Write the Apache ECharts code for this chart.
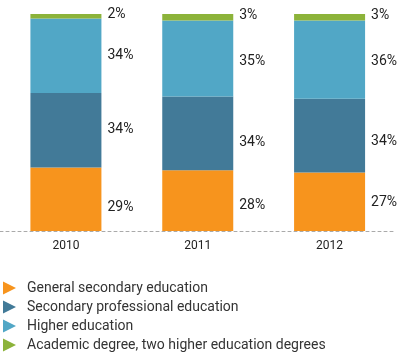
<!DOCTYPE html>
<html>
<head>
<meta charset="utf-8">
<script src="https://cdn.jsdelivr.net/npm/echarts@6/dist/echarts.min.js"></script>
<style>
html,body{margin:0;padding:0;background:#fff;}
#chart{width:402px;height:357px;}
</style>
</head>
<body>
<div id="chart"></div>
<script>
const categories = ['2010', '2011', '2012'];
const seriesNames = [
  'General secondary education',
  'Secondary professional education',
  'Higher education',
  'Academic degree, two higher education degrees'
];
const generalSecondary = [29, 28, 27];
const secondaryProfessional = [34, 34, 34];
const higherEducation = [34, 35, 36];
const academicDegree = [2, 3, 3];

const colors = ['#F7941D', '#427A98', '#51A7C6', '#8CB33A'];
// label vertical nudges (style only)
const labelDy = [
  [8, 5, 1],
  [-1, 9, 6],
  [0, 3, 2],
  [-2, -2, -2]
];

const values = [generalSecondary, secondaryProfessional, higherEducation, academicDegree];
const totals = categories.map((c, i) => values.reduce((s, arr) => s + arr[i], 0));

const series = values.map((arr, si) => ({
  name: seriesNames[si],
  type: 'bar',
  stack: 'total',
  barWidth: 71,
  itemStyle: { color: colors[si] },
  data: arr.map((v, i) => ({
    value: v / totals[i] * 100,
    raw: v,
    label: { offset: [0, labelDy[si][i]] }
  })),
  label: {
    show: true,
    position: 'right',
    distance: 6,
    fontFamily: 'Roboto',
    fontSize: 14,
    color: '#222',
    formatter: p => p.data.raw + '%'
  }
}));

const chart = echarts.init(document.getElementById('chart'));
chart.setOption({
  animation: false,
  grid: { left: -20, right: 6.5, top: 14, bottom: 126, containLabel: false },
  xAxis: {
    type: 'category',
    data: categories,
    axisTick: { show: false },
    axisLine: { show: true, lineStyle: { color: '#aaa', type: [3, 3], width: 1 } },
    axisLabel: { fontFamily: 'Roboto', fontSize: 12, color: '#222', margin: 9 }
  },
  yAxis: {
    type: 'value',
    min: 0,
    max: 100,
    show: false,
    splitLine: { show: false }
  },
  legend: {
    orient: 'vertical',
    left: 3,
    top: 281,
    height: 100,
    padding: 0,
    itemWidth: 13,
    itemHeight: 13,
    itemGap: 5,
    icon: 'path://M0,0L13,6.5L0,13Z',
    textStyle: { fontFamily: 'Roboto', fontSize: 14, color: '#333', padding: [0, 0, 0, 6] },
    data: seriesNames
  },
  series: series
});
</script>
</body>
</html>
